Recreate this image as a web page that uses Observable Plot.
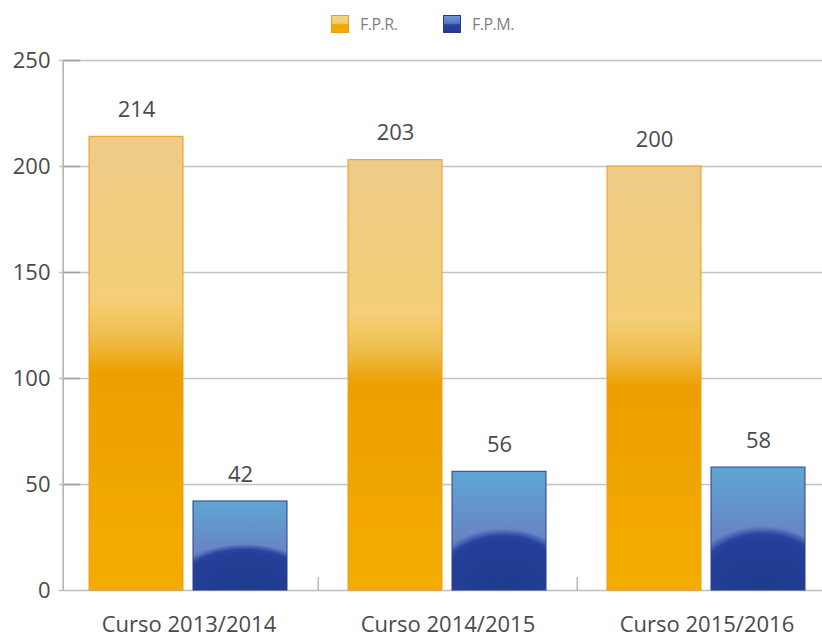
<!DOCTYPE html>
<html>
<head>
<meta charset="utf-8">
<script src="https://cdn.jsdelivr.net/npm/d3@7"></script>
<script src="https://cdn.jsdelivr.net/npm/@observablehq/plot@0.6"></script>
<style>
  html, body { margin: 0; padding: 0; background: #fff; overflow: hidden; }
  #legend { position: relative; height: 30px; font-family: "Open Sans", sans-serif; }
  .item { position: absolute; top: 15px; display: flex; align-items: center; }
  .sw { width: 18px; height: 18px; box-sizing: border-box; }
  .lab { margin-left: 11px; font-size: 16px; color: #7f7f7f; letter-spacing: -0.5px; line-height: 18px; }
</style>
</head>
<body>
<div id="legend"></div>
<div id="chart"></div>
<script>
const categories = ["Curso 2013/2014", "Curso 2014/2015", "Curso 2015/2016"];
const series = ["F.P.R.", "F.P.M."];
const fprValues = [214, 203, 200];
const fpmValues = [42, 56, 58];
const yTicks = [0, 50, 100, 150, 200, 250];

const data = categories.flatMap((c, i) => [
  {cat: c, series: series[0], value: fprValues[i]},
  {cat: c, series: series[1], value: fpmValues[i]}
]);
const fpr = data.filter(d => d.series === series[0]);
const fpm = data.filter(d => d.series === series[1]);

// legend
const legend = document.getElementById("legend");
const swatchStyles = [
  "border:1px solid #f09a1e;background:linear-gradient(#f6d382 0%,#f4cb6e 45%,#f1a800 55%,#f2aa00 100%);",
  "border:1px solid #26388a;background:linear-gradient(#7196d6 0%,#5577c4 45%,#2a44a0 55%,#223a90 100%);"
];
const legendLeft = [331, 443];
series.forEach((s, i) => {
  const it = document.createElement("div");
  it.className = "item";
  it.style.left = legendLeft[i] + "px";
  it.innerHTML = `<div class="sw" style="${swatchStyles[i]}"></div><div class="lab">${s}</div>`;
  legend.appendChild(it);
});

const W = 822, H = 607;
const fxRange = [58, 837];
const axisX = 62;
const bw = (fxRange[1] - fxRange[0]) / categories.length;
const axisShift = axisX - fxRange[0];
const textColor = "#4a4a4a";

const chart = Plot.plot({
  width: W,
  height: H,
  marginLeft: 58,
  marginRight: 0,
  marginTop: 30,
  marginBottom: 47,
  style: {fontFamily: "'Open Sans', sans-serif", background: "transparent"},
  fx: {domain: categories, range: fxRange, padding: 0, label: null},
  x: {domain: series, paddingInner: 0.095, paddingOuter: 0.284, axis: null},
  y: {domain: [0, 250], axis: null},
  marks: [
    Plot.ruleY(yTicks.slice(1), {stroke: "#c4c4c4", strokeWidth: 1.6}),
    Plot.tickY(yTicks.slice(1), {y: d => d, fx: () => categories[0], insetLeft: axisShift, insetRight: bw - 22, stroke: "#a0a0a0", strokeWidth: 1.6}),
    Plot.ruleY([0], {stroke: "#bdbdbd", strokeWidth: 1.6}),
    Plot.ruleX([categories[0]], {fx: d => d, x: null, dx: -bw / 2 + axisShift, y1: 0, y2: 250, stroke: "#b4b4b4", strokeWidth: 1.6}),
    Plot.ruleX(categories.slice(1), {fx: d => d, x: null, dx: -bw / 2, y1: 0, y2: 0, insetTop: -13, stroke: "#a8a8a8", strokeWidth: 1.2}),
    Plot.barY(fpr, {fx: "cat", x: "series", y: "value", fill: "url(#gOrange)", stroke: "#f39a1c", strokeWidth: 1}),
    Plot.barY(fpm, {fx: "cat", x: "series", y: "value", fill: "url(#gBlue)"}),
    Plot.barY(fpm, {fx: "cat", x: "series", y: "value", fill: "url(#gBlueDark)"}),
    Plot.barY(fpm, {fx: "cat", x: "series", y: "value", fill: "none", stroke: "#2c3d8e", strokeWidth: 1}),
    Plot.text(data, {fx: "cat", x: "series", y: "value", text: d => String(d.value), dy: -27, fontSize: 22, fill: textColor}),
    Plot.axisY({ticks: yTicks, tickSize: 0, tickPadding: 9, fontSize: 22, fill: textColor, label: null}),
    Plot.axisFx({anchor: "bottom", tickSize: 0, tickPadding: 26, fontSize: 22, fill: textColor, label: null})
  ]
});

const defs = d3.select(chart).insert("defs", ":first-child");
defs.html(`
  <linearGradient id="gOrange" x1="0" y1="0" x2="0" y2="1">
    <stop offset="0" stop-color="#eecb88"/>
    <stop offset="0.2" stop-color="#f1cd7e"/>
    <stop offset="0.36" stop-color="#f4cf76"/>
    <stop offset="0.44" stop-color="#efbe4e"/>
    <stop offset="0.52" stop-color="#eca000"/>
    <stop offset="1" stop-color="#f4ac00"/>
  </linearGradient>
  <linearGradient id="gBlue" x1="0" y1="0" x2="0" y2="1">
    <stop offset="0" stop-color="#5ea7d3"/>
    <stop offset="0.5" stop-color="#6788c6"/>
    <stop offset="1" stop-color="#6a76bc"/>
  </linearGradient>
  <radialGradient id="gBlueDark" cx="0.55" cy="1.0" r="0.52" fx="0.55" fy="1.0"
      gradientTransform="translate(0.55,1) scale(1.6,1) translate(-0.55,-1)">
    <stop offset="0" stop-color="#1f3b8c"/>
    <stop offset="0.8" stop-color="#243f98"/>
    <stop offset="0.88" stop-color="#2945a2"/>
    <stop offset="0.95" stop-color="#3a56ac" stop-opacity="0.55"/>
    <stop offset="1" stop-color="#4060b0" stop-opacity="0"/>
  </radialGradient>
`);

document.getElementById("chart").appendChild(chart);
</script>
</body>
</html>
